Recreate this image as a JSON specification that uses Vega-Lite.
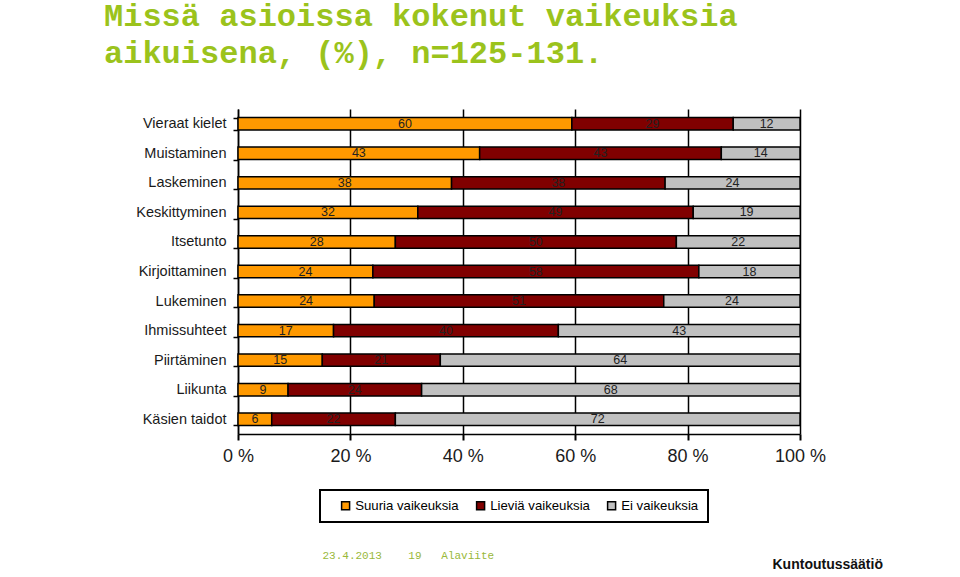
{
  "$schema": "https://vega.github.io/schema/vega-lite/v6.json",
  "width": 562,
  "height": 325,
  "autosize": {"type": "none"},
  "padding": {"left": 238, "top": 109, "right": 160, "bottom": 143},
  "background": "white",
  "title": {
    "text": ["Missä asioissa kokenut vaikeuksia", "aikuisena, (%), n=125-131."],
    "anchor": "start",
    "frame": "group",
    "dx": -134,
    "font": "Liberation Mono",
    "fontSize": 32,
    "fontWeight": "bold",
    "color": "#9bc31c",
    "lineHeight": 37,
    "offset": 6,
    "baseline": "alphabetic"
  },
  "data": {
    "values": [
      {"item": "Vieraat kielet", "cat": "Suuria vaikeuksia", "k": 1, "value": 60},
      {"item": "Vieraat kielet", "cat": "Lieviä vaikeuksia", "k": 2, "value": 29},
      {"item": "Vieraat kielet", "cat": "Ei vaikeuksia", "k": 3, "value": 12},
      {"item": "Muistaminen", "cat": "Suuria vaikeuksia", "k": 1, "value": 43},
      {"item": "Muistaminen", "cat": "Lieviä vaikeuksia", "k": 2, "value": 43},
      {"item": "Muistaminen", "cat": "Ei vaikeuksia", "k": 3, "value": 14},
      {"item": "Laskeminen", "cat": "Suuria vaikeuksia", "k": 1, "value": 38},
      {"item": "Laskeminen", "cat": "Lieviä vaikeuksia", "k": 2, "value": 38},
      {"item": "Laskeminen", "cat": "Ei vaikeuksia", "k": 3, "value": 24},
      {"item": "Keskittyminen", "cat": "Suuria vaikeuksia", "k": 1, "value": 32},
      {"item": "Keskittyminen", "cat": "Lieviä vaikeuksia", "k": 2, "value": 49},
      {"item": "Keskittyminen", "cat": "Ei vaikeuksia", "k": 3, "value": 19},
      {"item": "Itsetunto", "cat": "Suuria vaikeuksia", "k": 1, "value": 28},
      {"item": "Itsetunto", "cat": "Lieviä vaikeuksia", "k": 2, "value": 50},
      {"item": "Itsetunto", "cat": "Ei vaikeuksia", "k": 3, "value": 22},
      {"item": "Kirjoittaminen", "cat": "Suuria vaikeuksia", "k": 1, "value": 24},
      {"item": "Kirjoittaminen", "cat": "Lieviä vaikeuksia", "k": 2, "value": 58},
      {"item": "Kirjoittaminen", "cat": "Ei vaikeuksia", "k": 3, "value": 18},
      {"item": "Lukeminen", "cat": "Suuria vaikeuksia", "k": 1, "value": 24},
      {"item": "Lukeminen", "cat": "Lieviä vaikeuksia", "k": 2, "value": 51},
      {"item": "Lukeminen", "cat": "Ei vaikeuksia", "k": 3, "value": 24},
      {"item": "Ihmissuhteet", "cat": "Suuria vaikeuksia", "k": 1, "value": 17},
      {"item": "Ihmissuhteet", "cat": "Lieviä vaikeuksia", "k": 2, "value": 40},
      {"item": "Ihmissuhteet", "cat": "Ei vaikeuksia", "k": 3, "value": 43},
      {"item": "Piirtäminen", "cat": "Suuria vaikeuksia", "k": 1, "value": 15},
      {"item": "Piirtäminen", "cat": "Lieviä vaikeuksia", "k": 2, "value": 21},
      {"item": "Piirtäminen", "cat": "Ei vaikeuksia", "k": 3, "value": 64},
      {"item": "Liikunta", "cat": "Suuria vaikeuksia", "k": 1, "value": 9},
      {"item": "Liikunta", "cat": "Lieviä vaikeuksia", "k": 2, "value": 24},
      {"item": "Liikunta", "cat": "Ei vaikeuksia", "k": 3, "value": 68},
      {"item": "Käsien taidot", "cat": "Suuria vaikeuksia", "k": 1, "value": 6},
      {"item": "Käsien taidot", "cat": "Lieviä vaikeuksia", "k": 2, "value": 22},
      {"item": "Käsien taidot", "cat": "Ei vaikeuksia", "k": 3, "value": 72}
    ]
  },
  "encoding": {
    "y": {
      "field": "item",
      "type": "nominal",
      "sort": null,
      "scale": {"paddingInner": 0.58, "paddingOuter": 0.29},
      "axis": {
        "title": "Kuntoutussäätiö",
        "titleAngle": 0,
        "titleX": 534,
        "titleY": 459,
        "titleAlign": "left",
        "titleBaseline": "alphabetic",
        "titleFont": "Liberation Sans",
        "titleFontSize": 14,
        "titleFontWeight": "bold",
        "titleColor": "#111111",
        "domainColor": "black",
        "domainWidth": 1.5,
        "tickColor": "black",
        "tickWidth": 1.5,
        "tickSize": 5,
        "tickBand": "extent",
        "labelFont": "Liberation Sans",
        "labelFontSize": 14.5,
        "labelColor": "#1a1a1a",
        "labelPadding": 7
      }
    }
  },
  "layer": [
    {
      "mark": {"type": "bar", "stroke": "black", "strokeWidth": 1.5},
      "encoding": {
        "x": {
          "field": "value",
          "type": "quantitative",
          "stack": "normalize",
          "axis": {
            "title": "23.4.2013\u00a0\u00a0\u00a0\u00a019\u00a0\u00a0\u00a0Alaviite",
            "titleX": 84,
            "titleY": 124,
            "titleAlign": "left",
            "titleBaseline": "alphabetic",
            "titleFont": "Liberation Mono",
            "titleFontSize": 11,
            "titleFontWeight": "normal",
            "titleColor": "#99b83a",
            "values": [0, 0.2, 0.4, 0.6, 0.8, 1],
            "labelExpr": "round(datum.value * 100) + ' %'",
            "labelFlush": false,
            "grid": true,
            "gridColor": "black",
            "gridWidth": 1.5,
            "gridOpacity": 1,
            "domainColor": "black",
            "domainWidth": 1.5,
            "tickColor": "black",
            "tickWidth": 2,
            "tickSize": 6,
            "labelFont": "Liberation Sans",
            "labelFontSize": 18,
            "labelColor": "#1a1a1a",
            "labelPadding": 7
          }
        },
        "color": {
          "field": "cat",
          "type": "nominal",
          "sort": ["Suuria vaikeuksia", "Lieviä vaikeuksia", "Ei vaikeuksia"],
          "scale": {
            "domain": ["Suuria vaikeuksia", "Lieviä vaikeuksia", "Ei vaikeuksia"],
            "range": ["#ff9900", "#800000", "#c0c0c0"]
          },
          "legend": {
            "orient": "none",
            "legendX": 82,
            "legendY": 381,
            "direction": "horizontal",
            "title": null,
            "symbolType": "square",
            "symbolSize": 64,
            "symbolStrokeColor": "black",
            "symbolStrokeWidth": 1.5,
            "symbolOpacity": 1,
            "symbolOffset": 10,
            "labelFont": "Liberation Sans",
            "labelFontSize": 13.2,
            "labelColor": "black",
            "labelOffset": 3,
            "strokeColor": "black",
            "padding": 9,
            "columnPadding": 5
          }
        },
        "order": {"field": "k", "type": "quantitative"}
      }
    },
    {
      "mark": {"type": "text", "font": "Liberation Sans", "fontSize": 12.5, "color": "#222222", "baseline": "middle"},
      "encoding": {
        "x": {"field": "value", "type": "quantitative", "stack": "normalize", "bandPosition": 0.5},
        "detail": {"field": "cat"},
        "order": {"field": "k", "type": "quantitative"},
        "text": {"field": "value", "type": "quantitative"}
      }
    }
  ],
  "config": {
    "view": {"stroke": null},
    "legend": {"strokeWidth": 2}
  }
}
